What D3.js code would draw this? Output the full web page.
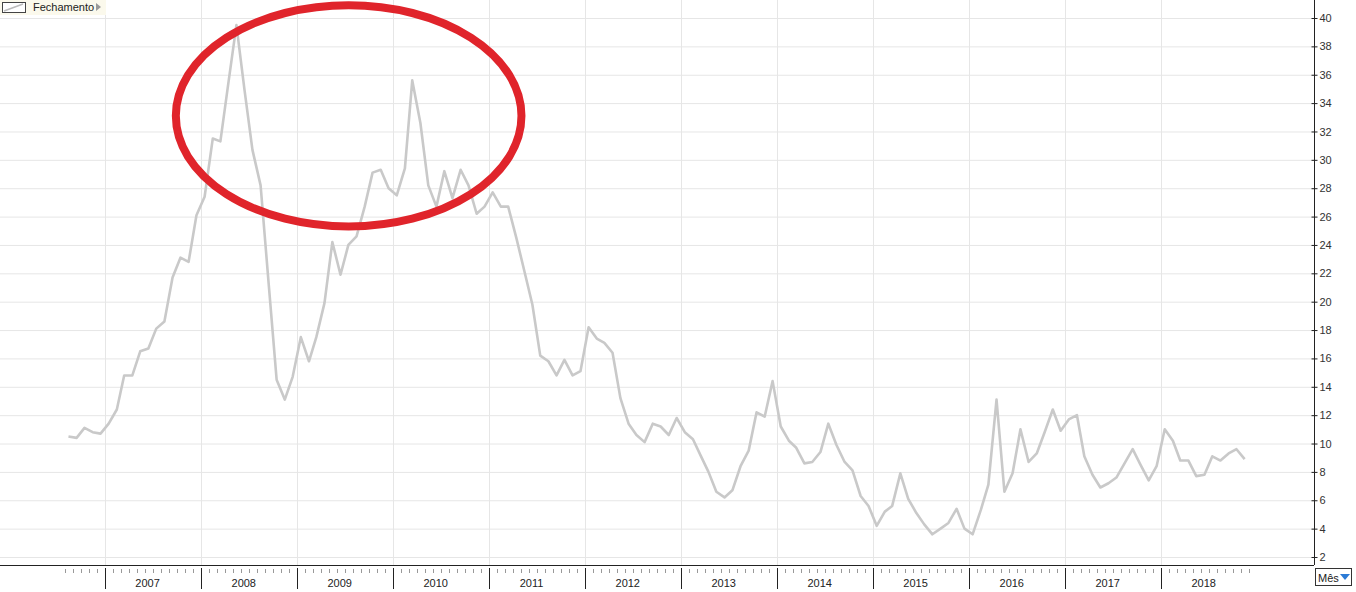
<!DOCTYPE html>
<html>
<head>
<meta charset="utf-8">
<script src="https://cdn.jsdelivr.net/npm/d3@7"></script>
<style>
  body { margin: 0; background: #fff; }
  svg { display: block; font-family: "Liberation Sans", Arial, sans-serif; }
</style>
</head>
<body>
<svg id="chart"></svg>
<script>
const width = 1356;
const height = 592;

// monthly closes, first value is Aug 2006
const firstMonth = new Date(2006, 7, 15);
const closes = [
  10.5, 10.4, 11.1, 10.8, 10.7,                                   // 2006
  11.4, 12.4, 14.8, 14.8, 16.5, 16.7, 18.1, 18.6, 21.7, 23.1, 22.8, 26.1, // 2007
  27.4, 31.5, 31.3, 35.5, 39.5, 34.9, 30.7, 28.2, 21.2, 14.5, 13.1, 14.7, // 2008
  17.5, 15.8, 17.5, 19.9, 24.2, 21.9, 24.0, 24.6, 26.7, 29.1, 29.3, 28.0, // 2009
  27.5, 29.4, 35.6, 32.6, 28.2, 26.7, 29.2, 27.3, 29.3, 28.2, 26.2, 26.7, // 2010
  27.7, 26.7, 26.7, 24.5, 22.2, 19.8, 16.2, 15.8, 14.8, 15.9, 14.8, 15.1, // 2011
  18.2, 17.4, 17.1, 16.4, 13.2, 11.4, 10.6, 10.1, 11.4, 11.2, 10.6, 11.8, // 2012
  10.8, 10.3, 9.2, 8.0, 6.6, 6.2, 6.7, 8.4, 9.5, 12.2, 11.9, 14.4,       // 2013
  11.2, 10.2, 9.7, 8.6, 8.7, 9.4, 11.4, 9.9, 8.7, 8.1, 6.3, 5.6,         // 2014
  4.2, 5.2, 5.6, 7.9, 6.1, 5.1, 4.3, 3.6, 4.0, 4.4, 5.4, 4.0,            // 2015
  3.6, 5.3, 7.1, 13.1, 6.6, 7.9, 11.0, 8.7, 9.3, 10.8, 12.4, 10.9,       // 2016
  11.7, 12.0, 9.1, 7.8, 6.9, 7.2, 7.6, 8.6, 9.6, 8.5, 7.4, 8.4,          // 2017
  11.0, 10.2, 8.8, 8.8, 7.7, 7.8, 9.1, 8.8, 9.3, 9.6, 8.9               // 2018
];
const years = d3.range(2007, 2019);
const yTicks = d3.range(2, 41, 2);
const legendLabel = 'Fechamento';
const periodLabel = 'Mês';

// red hand-drawn ellipse, in data units (centre date/value, half-width in months, half-height in value)
const highlight = { date: new Date(2009, 6, 16), value: 33.1, months: 21.6, spread: 7.8 };

const plotRight = 1314;
const plotBottom = 565;

const series = closes.map((v, i) => ({ date: d3.timeMonth.offset(firstMonth, i), value: v }));

const x = d3.scaleTime()
  .domain([new Date(2007, 0, 1), new Date(2019, 0, 1)])
  .range([105, 105 + 12 * 96]);

const y = d3.scaleLinear()
  .domain([2, 40])
  .range([557, 18]);

const svg = d3.select('#chart')
  .attr('width', width)
  .attr('height', height);

// grid
svg.append('g')
  .selectAll('line')
  .data(yTicks)
  .join('line')
    .attr('x1', 0)
    .attr('x2', plotRight)
    .attr('y1', d => y(d) + 0.5)
    .attr('y2', d => y(d) + 0.5)
    .attr('stroke', '#e6e6e6');

svg.append('g')
  .selectAll('line')
  .data(years)
  .join('line')
    .attr('x1', d => Math.round(x(new Date(d, 0, 1))) + 0.5)
    .attr('x2', d => Math.round(x(new Date(d, 0, 1))) + 0.5)
    .attr('y1', 0)
    .attr('y2', plotBottom)
    .attr('stroke', '#e6e6e6');

// line
const line = d3.line()
  .x(d => x(d.date))
  .y(d => y(d.value));

svg.append('path')
  .datum(series)
  .attr('d', line)
  .attr('fill', 'none')
  .attr('stroke', '#c9c9c9')
  .attr('stroke-width', 2.6)
  .attr('stroke-linejoin', 'round');

// highlight ellipse
const cx = x(highlight.date);
const cy = y(highlight.value);
svg.append('ellipse')
  .attr('cx', cx)
  .attr('cy', cy)
  .attr('rx', x(new Date(+highlight.date + highlight.months * 30.44 * 864e5)) - cx)
  .attr('ry', y(highlight.value - highlight.spread) - cy)
  .attr('fill', 'none')
  .attr('stroke', '#e0242b')
  .attr('stroke-width', 8);

// right axis
svg.append('line')
  .attr('x1', plotRight + 0.5).attr('x2', plotRight + 0.5)
  .attr('y1', 0).attr('y2', plotBottom)
  .attr('stroke', '#222');

const yAxis = svg.append('g')
  .attr('transform', `translate(${plotRight + 0.5},0)`)
  .call(d3.axisRight(y).tickValues(yTicks).tickSize(3).tickPadding(2));
yAxis.select('.domain').remove();
yAxis.selectAll('.tick line').attr('x1', -3).attr('stroke', '#222');
yAxis.selectAll('.tick text')
  .attr('font-size', 11)
  .attr('fill', '#333')
  .attr('font-family', '"Liberation Sans", Arial, sans-serif');

// bottom axis
svg.append('line')
  .attr('x1', 0).attr('x2', plotRight)
  .attr('y1', plotBottom + 0.5).attr('y2', plotBottom + 0.5)
  .attr('stroke', '#222');

const months = d3.timeMonth.range(new Date(2006, 7, 1), new Date(2018, 11, 2))
  .filter(d => d.getMonth() !== 0);

svg.append('g')
  .selectAll('line')
  .data(months)
  .join('line')
    .attr('x1', d => Math.round(x(d)) + 0.5)
    .attr('x2', d => Math.round(x(d)) + 0.5)
    .attr('y1', 569)
    .attr('y2', 573)
    .attr('stroke', '#999');

svg.append('g')
  .selectAll('line')
  .data(years)
  .join('line')
    .attr('x1', d => Math.round(x(new Date(d, 0, 1))) + 0.5)
    .attr('x2', d => Math.round(x(new Date(d, 0, 1))) + 0.5)
    .attr('y1', 568)
    .attr('y2', 589)
    .attr('stroke', '#222');

svg.append('g')
  .selectAll('text')
  .data(years)
  .join('text')
    .attr('x', d => x(new Date(d, 6, 1)) - 5)
    .attr('y', 587)
    .attr('text-anchor', 'middle')
    .attr('font-size', 11)
    .attr('fill', '#222')
    .text(d => d);

// legend
const legend = svg.append('g');
legend.append('rect')
  .attr('x', 0).attr('y', 0).attr('width', 106).attr('height', 15)
  .attr('fill', '#fbf9ec');
legend.append('rect')
  .attr('x', 2.5).attr('y', 2.5).attr('width', 23).attr('height', 10)
  .attr('fill', '#fff').attr('stroke', '#444');
legend.append('line')
  .attr('x1', 4).attr('y1', 11).attr('x2', 23).attr('y2', 4)
  .attr('stroke', '#bbb').attr('stroke-width', 1.5);
legend.append('text')
  .attr('x', 33).attr('y', 11)
  .attr('font-size', 11).attr('fill', '#222')
  .text(legendLabel);
legend.append('path')
  .attr('d', 'M96,3 L101,7 L96,11 Z')
  .attr('fill', '#999');

// period selector
const period = svg.append('g');
period.append('rect')
  .attr('x', 1315.5).attr('y', 568.5).attr('width', 36).attr('height', 17)
  .attr('fill', '#fff').attr('stroke', '#333');
period.append('text')
  .attr('x', 1318).attr('y', 582)
  .attr('font-size', 11).attr('fill', '#222')
  .text(periodLabel);
period.append('path')
  .attr('d', 'M1340,574 L1350,574 L1345,580 Z')
  .attr('fill', '#2b7bd6');
</script>
</body>
</html>
